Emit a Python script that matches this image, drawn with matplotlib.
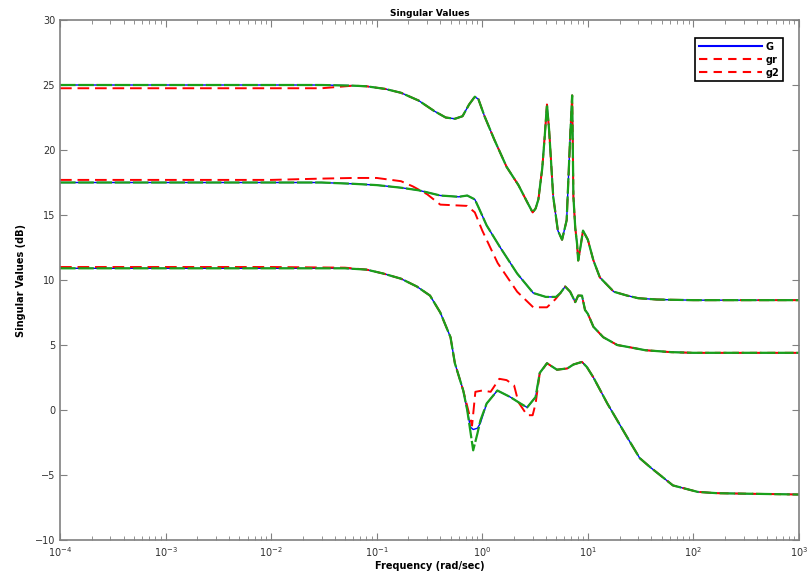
import matplotlib
matplotlib.use('Agg')
import matplotlib.pyplot as plt
from matplotlib.lines import Line2D

# ---- data (freq in rad/sec, values in dB) ----
# G, largest singular value
f_G1 = [1e-4, 1e-3, 1e-2, 0.03, 0.06, 0.08, 0.12, 0.17, 0.25, 0.35,
        0.45, 0.55, 0.65, 0.75, 0.85, 0.92, 1.05, 1.3, 1.7, 2.2,
        2.7, 3.0, 3.2, 3.4, 3.7, 3.9, 4.1, 4.3, 4.7, 5.2,
        5.7, 6.3, 6.8, 7.1, 7.3, 7.6, 7.9, 8.1, 8.5, 9.0,
        10.0, 11.3, 13.0, 17.6, 23.6, 30, 45, 100, 1000]
G1 = [25.0, 25.0, 25.0, 25.0, 24.95, 24.9, 24.7, 24.4, 23.8, 23.0,
      22.5, 22.4, 22.6, 23.5, 24.1, 23.9, 22.6, 20.8, 18.7, 17.3,
      15.9, 15.2, 15.5, 16.2, 18.6, 21.0, 23.5, 21.5, 16.4, 13.8,
      13.1, 14.6, 21.0, 24.2, 16.4, 14.0, 12.8, 11.5, 12.5, 13.8,
      13.1, 11.5, 10.2, 9.1, 8.8, 8.6, 8.5, 8.45, 8.45]

# G, middle singular value
f_G2 = [1e-4, 1e-3, 1e-2, 0.03, 0.06, 0.1, 0.17, 0.25, 0.4, 0.6,
        0.72, 0.85, 0.92, 1.1, 1.48, 2.14, 3.04, 4.0, 5.0, 5.5,
        6.1, 6.8, 7.6, 8.1, 8.8, 9.4, 10, 11.3, 14, 19,
        26, 35, 62, 100, 1000]
G2 = [17.5, 17.5, 17.5, 17.5, 17.4, 17.3, 17.1, 16.9, 16.5, 16.4,
      16.5, 16.2, 15.6, 14.2, 12.5, 10.5, 9.0, 8.7, 8.7, 9.0,
      9.5, 9.1, 8.3, 8.8, 8.8, 7.7, 7.4, 6.4, 5.6, 5.0,
      4.8, 4.6, 4.45, 4.4, 4.4]

# G, smallest singular value
f_G3 = [1e-4, 1e-3, 1e-2, 0.05, 0.08, 0.115, 0.17, 0.24, 0.32, 0.4,
        0.5, 0.55, 0.66, 0.72, 0.77, 0.82, 0.9, 0.96, 1.1, 1.39,
        1.84, 2.3, 2.66, 3.2, 3.5, 4.1, 5.1, 6.4, 7.3, 8.8,
        9.8, 11.3, 15.3, 23.6, 31, 39, 64, 110, 170, 1000]
G3 = [10.9, 10.9, 10.9, 10.9, 10.8, 10.5, 10.1, 9.5, 8.8, 7.5,
      5.6, 3.6, 1.5, 0.0, -1.3, -1.5, -1.4, -1.0, 0.5, 1.5,
      1.0, 0.5, 0.2, 1.0, 2.85, 3.6, 3.1, 3.2, 3.5, 3.7,
      3.3, 2.5, 0.5, -2.1, -3.7, -4.4, -5.8, -6.3, -6.4, -6.5]

# gr: differs from G at low freq and in the 0.2..5 rad/s band
f_R1 = [1e-4, 1e-3, 1e-2, 0.03] + f_G1[4:]
R1 = [24.75, 24.75, 24.75, 24.75] + G1[4:]

f_R2 = [1e-4, 1e-3, 1e-2, 0.03, 0.06, 0.1, 0.17, 0.22, 0.3, 0.4,
        0.72, 0.85, 1.0, 1.19, 1.4, 2.14, 3.04, 4.1, 4.9, 5.5] + f_G2[20:]
R2 = [17.7, 17.7, 17.7, 17.8, 17.85, 17.85, 17.6, 17.2, 16.6, 15.8,
      15.7, 15.2, 13.8, 12.5, 11.3, 9.1, 7.9, 7.9, 8.5, 9.0] + G2[20:]

f_R3 = [1e-4, 1e-3, 1e-2, 0.05] + f_G3[4:13] + \
       [0.72, 0.8, 0.86, 1.0, 1.2, 1.45, 1.7, 2.0, 2.2, 2.66, 3.0, 3.2, 3.5] + f_G3[25:]
R3 = [11.0, 11.0, 11.0, 10.95] + G3[4:13] + \
     [0.3, -1.2, 1.4, 1.5, 1.4, 2.4, 2.3, 1.9, 0.6, -0.4, -0.4, 0.5, 2.8] + G3[25:]

# g2: on top of G except the deeper notch near 0.8 rad/s
g2_3 = G3[:14] + [-1.6, -3.1, -1.8, -0.8] + G3[18:]

blue = '#0000ff'
red = '#ff0000'
green = '#1aa01a'
grey = '#808080'

fig = plt.figure(figsize=(8.09, 5.78), dpi=100)
ax = fig.add_axes([0.0742, 0.0657, 0.9134, 0.8997])

for f, v in [(f_G1, G1), (f_G2, G2), (f_G3, G3)]:
    ax.plot(f, v, color=blue, lw=1.0)
for f, v in [(f_R1, R1), (f_R2, R2), (f_R3, R3)]:
    ax.plot(f, v, color=red, lw=1.4, dashes=(6, 3))
for f, v in [(f_G1, G1), (f_G2, G2), (f_G3, g2_3)]:
    ax.plot(f, v, color=green, lw=1.6, dashes=(7, 1.2))

ax.set_xscale('log')
ax.set_xlim(1e-4, 1e3)
ax.set_ylim(-10, 30)
ax.set_yticks(range(-10, 31, 5))

for s in ax.spines.values():
    s.set_color(grey)
    s.set_linewidth(1.2)
ax.tick_params(which='both', direction='in', top=True, right=True,
               color=grey, labelsize=7, labelcolor='#303030')
ax.tick_params(which='major', length=5)
ax.tick_params(which='minor', length=3)

ax.set_title('Singular Values', fontsize=6.5, fontweight='bold', pad=3)
ax.set_xlabel('Frequency (rad/sec)', fontsize=7, fontweight='bold', labelpad=2)
ax.set_ylabel('Singular Values (dB)', fontsize=7, fontweight='bold', labelpad=6)

handles = [Line2D([], [], color=blue, lw=1.5),
           Line2D([], [], color=red, lw=1.5, dashes=(4, 3)),
           Line2D([], [], color=red, lw=1.5, dashes=(4, 3))]
leg = ax.legend(handles, ['G', 'gr', 'g2'], loc='upper right',
                bbox_to_anchor=(0.985, 0.975), fontsize=7, handlelength=6.5,
                fancybox=False, framealpha=1, borderpad=0.4,
                labelspacing=0.3, handletextpad=0.3)
leg.get_frame().set_edgecolor('black')
leg.get_frame().set_linewidth(1.2)
for t in leg.get_texts():
    t.set_fontweight('bold')

fig.savefig('out.png', dpi=100)
